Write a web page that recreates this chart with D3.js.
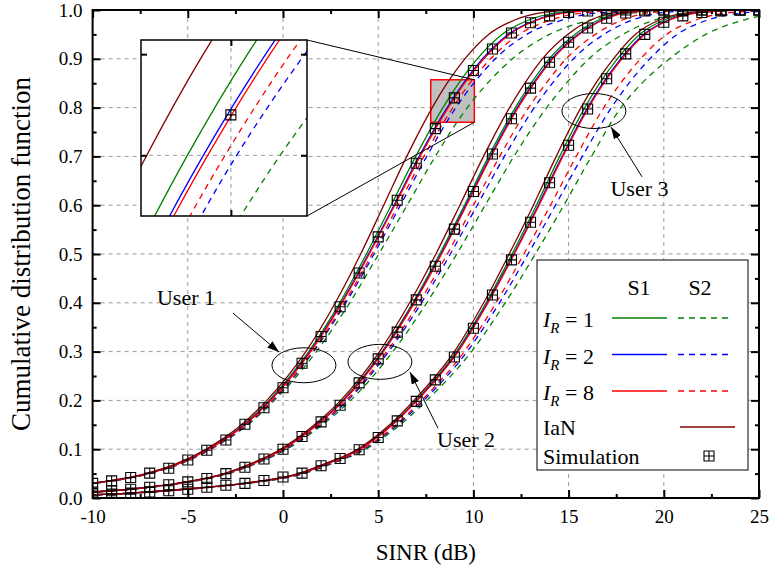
<!DOCTYPE html>
<html>
<head>
<meta charset="utf-8">
<script src="https://cdn.jsdelivr.net/npm/d3@7"></script>
<style>
  body { margin: 0; background: #fff; }
  text { font-family: "Liberation Serif", "Times New Roman", serif; fill: #000; }
</style>
</head>
<body>
<svg id="chart" width="771" height="575"></svg>
<script>
var cdfLevels = [0.005, 0.01, 0.02, 0.03, 0.05, 0.07, 0.1, 0.15, 0.2, 0.3, 0.4, 0.5, 0.6, 0.7, 0.8, 0.85, 0.9, 0.95, 0.98, 0.995, 1.0];

// user 1
var u1IaN  = [-22.1, -18.1, -13.6, -10.1, -7.22, -5.63, -4.05, -2.18, -0.85, 1.2, 2.75, 4.08, 5.29, 6.5, 7.84, 8.62, 9.55, 10.8, 12.2, 13.7, 15.5];
var u1R1S1 = [-22.03, -18.03, -13.53, -10.03, -7.14, -5.55, -3.95, -2.06, -0.73, 1.35, 2.98, 4.38, 5.68, 6.97, 8.4, 9.23, 10.2, 11.5, 12.95, 14.5, 16.5];
var u1R2S1 = [-22.01, -18.01, -13.51, -10.01, -7.11, -5.52, -3.92, -2.02, -0.67, 1.42, 3.07, 4.49, 5.83, 7.15, 8.62, 9.48, 10.48, 11.82, 13.32, 14.9, 17];
var u1R8S1 = [-22, -18, -13.5, -10, -7.1, -5.5, -3.9, -2.0, -0.65, 1.45, 3.1, 4.53, 5.87, 7.2, 8.68, 9.54, 10.55, 11.9, 13.4, 15.0, 17];
var u1R8S2 = [-21.97, -17.97, -13.47, -9.97, -7.06, -5.45, -3.85, -1.94, -0.57, 1.55, 3.22, 4.68, 6.05, 7.4, 8.92, 9.82, 10.9, 12.4, 14.1, 16.0, 18.5];
var u1R2S2 = [-21.95, -17.95, -13.45, -9.95, -7.04, -5.43, -3.82, -1.9, -0.53, 1.6, 3.3, 4.78, 6.17, 7.55, 9.08, 10.02, 11.15, 12.8, 14.7, 16.8, 20];
var u1R1S2 = [-21.92, -17.92, -13.42, -9.92, -7.0, -5.39, -3.78, -1.85, -0.45, 1.75, 3.5, 5.03, 6.52, 8.0, 9.68, 10.74, 12.05, 14.0, 16.2, 18.8, 23];

// user 2
var u2IaN  = [-15.1, -11.1, -7.6, -5.6, -3.1, -1.72, -0.13, 1.65, 3.03, 5.07, 6.65, 8.03, 9.29, 10.53, 11.9, 12.7, 13.62, 14.95, 16.2, 17.5, 19.5];
var u2R1S1 = [-15.02, -11.02, -7.52, -5.52, -3.03, -1.63, -0.04, 1.75, 3.14, 5.2, 6.82, 8.23, 9.53, 10.8, 12.2, 13.03, 13.98, 15.33, 16.6, 17.92, 20];
var u2R2S1 = [-15.01, -11.01, -7.51, -5.51, -3.01, -1.61, -0.02, 1.78, 3.18, 5.24, 6.87, 8.3, 9.6, 10.89, 12.3, 13.15, 14.11, 15.49, 16.78, 18.12, 20.2];
var u2R8S1 = [-15, -11, -7.5, -5.5, -3.0, -1.6, 0, 1.8, 3.2, 5.27, 6.9, 8.33, 9.64, 10.93, 12.35, 13.2, 14.17, 15.55, 16.85, 18.2, 20.3];
var u2R8S2 = [-14.97, -10.97, -7.47, -5.46, -2.95, -1.54, 0.07, 1.9, 3.32, 5.45, 7.14, 8.63, 10.01, 11.38, 12.9, 13.82, 14.87, 16.4, 17.85, 19.4, 22];
var u2R2S2 = [-14.95, -10.95, -7.45, -5.44, -2.92, -1.5, 0.12, 1.96, 3.4, 5.55, 7.27, 8.79, 10.2, 11.63, 13.2, 14.15, 15.25, 16.85, 18.4, 20.05, 23];
var u2R1S2 = [-14.92, -10.92, -7.42, -5.4, -2.87, -1.44, 0.2, 2.07, 3.55, 5.77, 7.55, 9.13, 10.62, 12.13, 13.85, 14.88, 16.07, 17.85, 19.55, 21.4, 24.8];

// user 3
var u3IaN  = [-11.1, -8.1, -4.6, -2.1, 0.8, 2.18, 3.92, 5.6, 6.88, 9.0, 10.54, 11.88, 13.15, 14.35, 15.65, 16.43, 17.35, 18.5, 19.8, 21.4, 23.5];
var u3R1S1 = [-11.03, -8.03, -4.53, -2.03, 0.86, 2.25, 4.0, 5.69, 6.98, 9.11, 10.67, 12.03, 13.31, 14.53, 15.85, 16.63, 17.56, 18.73, 20.05, 21.67, 24];
var u3R2S1 = [-11.01, -8.01, -4.51, -2.01, 0.89, 2.29, 4.03, 5.73, 7.03, 9.17, 10.74, 12.12, 13.41, 14.66, 16.0, 16.8, 17.74, 18.94, 20.28, 21.92, 24.3];
var u3R8S1 = [-11, -8, -4.5, -2.0, 0.9, 2.3, 4.05, 5.75, 7.05, 9.2, 10.77, 12.15, 13.45, 14.7, 16.05, 16.85, 17.8, 19.0, 20.35, 22.0, 24.5];
var u3R8S2 = [-10.96, -7.96, -4.45, -1.94, 0.98, 2.4, 4.18, 5.93, 7.28, 9.52, 11.19, 12.65, 14.05, 15.4, 16.85, 17.73, 18.78, 20.15, 21.7, 23.6, 26.5];
var u3R2S2 = [-10.94, -7.94, -4.42, -1.9, 1.03, 2.46, 4.25, 6.02, 7.39, 9.67, 11.37, 12.87, 14.31, 15.72, 17.25, 18.17, 19.27, 20.7, 22.35, 24.4, 27.5];
var u3R1S2 = [-10.9, -7.9, -4.38, -1.85, 1.1, 2.55, 4.35, 6.15, 7.55, 9.9, 11.67, 13.25, 14.75, 16.2, 17.75, 18.85, 20.3, 22.2, 24.25, 26.6, 30];

// simulation points
var simSINR = [-10, -9, -8, -7, -6, -5, -4, -3, -2, -1, 0, 1, 2, 3, 4, 5, 6, 7, 8, 9, 10, 11, 12, 13, 14, 15, 16, 17, 18, 19, 20, 21, 22, 23, 24, 25];
var simUser1 = [0.030, 0.035, 0.042, 0.051, 0.061, 0.078, 0.098, 0.119, 0.151, 0.185, 0.226, 0.276, 0.331, 0.392, 0.461, 0.535, 0.610, 0.686, 0.757, 0.820, 0.876, 0.920, 0.953, 0.974, 0.988, 0.995, 0.998, 1, 1, 1, 1, 1, 1, 1, 1, 1];
var simUser2 = [0.012, 0.015, 0.018, 0.022, 0.027, 0.033, 0.040, 0.050, 0.063, 0.080, 0.100, 0.126, 0.156, 0.190, 0.236, 0.285, 0.340, 0.406, 0.475, 0.551, 0.628, 0.705, 0.777, 0.840, 0.893, 0.934, 0.963, 0.983, 0.994, 0.998, 1, 1, 1, 1, 1, 1];
var simUser3 = [0.006, 0.008, 0.010, 0.012, 0.015, 0.018, 0.022, 0.026, 0.030, 0.036, 0.043, 0.051, 0.066, 0.081, 0.099, 0.124, 0.158, 0.198, 0.242, 0.289, 0.348, 0.416, 0.488, 0.565, 0.646, 0.723, 0.797, 0.859, 0.910, 0.950, 0.975, 0.988, 0.995, 0.998, 1, 1];

// axes
var xTicks = [-10, -5, 0, 5, 10, 15, 20, 25];
var xMinor = [-7.5, -2.5, 2.5, 7.5, 12.5, 17.5, 22.5];
var yTicks = [0, 0.1, 0.2, 0.3, 0.4, 0.5, 0.6, 0.7, 0.8, 0.9, 1.0];
var yMinor = [0.05, 0.15, 0.25, 0.35, 0.45, 0.55, 0.65, 0.75, 0.85, 0.95];

// zoomed window
var insetSINR = [7.76, 10.05];
var insetCDF = [0.770, 0.857];
var insetXTicks = [9];
var insetYTicks = [0.8, 0.85];

// user labels: ellipse centre, arrow tail/tip, text pos (data units)
var userNotes = [
  {label: "User 1", cx: 1.1, cy: 0.272, ax: -2.63, ay: 0.379, bx: -0.21, by: 0.299, tx: -6.62, ty: 0.395},
  {label: "User 2", cx: 5.09, cy: 0.279, ax: 8.14, ay: 0.143, bx: 6.67, by: 0.258, tx: 8.09, ty: 0.105},
  {label: "User 3", cx: 16.33, cy: 0.793, ax: 18.86, ay: 0.658, bx: 17.23, by: 0.760, tx: 17.2, ty: 0.619}
];

var GREEN = "#008000", BLUE = "#0000ff", RED = "#ff0000", MAROON = "#800000";

// drawing order: dashed first, IaN last
var series = [
  {color: GREEN, dashed: true,  data: [u1R1S2, u2R1S2, u3R1S2]},
  {color: BLUE,  dashed: true,  data: [u1R2S2, u2R2S2, u3R2S2]},
  {color: RED,   dashed: true,  data: [u1R8S2, u2R8S2, u3R8S2]},
  {color: GREEN, dashed: false, data: [u1R1S1, u2R1S1, u3R1S1]},
  {color: BLUE,  dashed: false, data: [u1R2S1, u2R2S1, u3R2S1]},
  {color: RED,   dashed: false, data: [u1R8S1, u2R8S1, u3R8S1]},
  {color: MAROON, dashed: false, data: [u1IaN, u2IaN, u3IaN]}
];
var simSets = [simUser1, simUser2, simUser3];

var svg = d3.select("#chart");
var pL = 92.6, pR = 759, pT = 10, pB = 498;

var x = d3.scaleLinear().domain([-10, 25]).range([pL, pR]);
var y = d3.scaleLinear().domain([0, 1]).range([pB, pT]);

var defs = svg.append("defs");
defs.append("clipPath").attr("id", "plotClip").append("rect")
  .attr("x", pL).attr("y", pT - 1).attr("width", pR - pL).attr("height", pB - pT + 1);
defs.append("marker").attr("id", "arrow")
  .attr("viewBox", "0 0 12 8").attr("refX", 12).attr("refY", 4)
  .attr("markerWidth", 12).attr("markerHeight", 8).attr("markerUnits", "userSpaceOnUse")
  .attr("orient", "auto")
  .append("path").attr("d", "M0,0L12,4L0,8z").attr("fill", "#000");

function toPoints(xs) {
  var pts = cdfLevels.map(function(p, i) { return [xs[i], p]; });
  if (xs[xs.length - 1] < 25) pts.push([25, 1]);
  return pts;
}

var markerPath = "M-5,-5h10v10h-10z M0,-5v10 M-5,0h10";

// gridlines
var grid = svg.append("g");
grid.selectAll(".vg").data(xTicks.slice(1, -1)).enter().append("line")
  .attr("x1", function(d) { return x(d); }).attr("x2", function(d) { return x(d); })
  .attr("y1", pT).attr("y2", pB)
  .attr("stroke", "#999").attr("stroke-width", 1).attr("stroke-dasharray", "4,4");
grid.selectAll(".hg").data(yTicks.slice(1, -1)).enter().append("line")
  .attr("y1", function(d) { return y(d); }).attr("y2", function(d) { return y(d); })
  .attr("x1", pL).attr("x2", pR)
  .attr("stroke", "#999").attr("stroke-width", 1).attr("stroke-dasharray", "4,4");

// zoom-region rectangle
svg.append("rect")
  .attr("x", x(insetSINR[0])).attr("y", y(insetCDF[1]))
  .attr("width", x(insetSINR[1]) - x(insetSINR[0]))
  .attr("height", y(insetCDF[0]) - y(insetCDF[1]))
  .attr("fill", "#c0c0c0").attr("stroke", RED).attr("stroke-width", 1.5);

function drawCurves(g, xs, ys) {
  var line = d3.line()
    .x(function(d) { return xs(d[0]); })
    .y(function(d) { return ys(d[1]); })
    .curve(d3.curveMonotoneX);
  series.forEach(function(s) {
    s.data.forEach(function(arr) {
      g.append("path")
        .attr("d", line(toPoints(arr)))
        .attr("fill", "none")
        .attr("stroke", s.color)
        .attr("stroke-width", 1.3)
        .attr("stroke-dasharray", s.dashed ? "6,5" : null);
    });
  });
  simSets.forEach(function(vals) {
    g.append("g").selectAll("path").data(vals).enter().append("path")
      .attr("d", markerPath)
      .attr("transform", function(d, i) { return "translate(" + xs(simSINR[i]) + "," + ys(d) + ")"; })
      .attr("fill", "none").attr("stroke", "#000").attr("stroke-width", 1.1);
  });
}

var plot = svg.append("g").attr("clip-path", "url(#plotClip)");
drawCurves(plot, x, y);

// connector lines from inset to zoom rect
var ix0 = 141, ix1 = 307, iy0 = 40, iy1 = 216;
svg.append("line").attr("x1", ix1).attr("y1", iy0)
  .attr("x2", x(insetSINR[1])).attr("y2", y(insetCDF[1]))
  .attr("stroke", "#000").attr("stroke-width", 1);
svg.append("line").attr("x1", ix1).attr("y1", iy1)
  .attr("x2", x(insetSINR[1])).attr("y2", y(insetCDF[0]))
  .attr("stroke", "#000").attr("stroke-width", 1);

// inset
var xi = d3.scaleLinear().domain(insetSINR).range([ix0, ix1]);
var yi = d3.scaleLinear().domain(insetCDF).range([iy1, iy0]);
defs.append("clipPath").attr("id", "insetClip").append("rect")
  .attr("x", ix0).attr("y", iy0).attr("width", ix1 - ix0).attr("height", iy1 - iy0);
var inset = svg.append("g");
inset.append("rect").attr("x", ix0).attr("y", iy0).attr("width", ix1 - ix0).attr("height", iy1 - iy0)
  .attr("fill", "#fff");
inset.selectAll(".ivg").data(insetXTicks).enter().append("line")
  .attr("x1", function(d) { return xi(d); }).attr("x2", function(d) { return xi(d); })
  .attr("y1", iy0).attr("y2", iy1)
  .attr("stroke", "#999").attr("stroke-dasharray", "4,4");
inset.selectAll(".ihg").data([insetYTicks[0]]).enter().append("line")
  .attr("y1", function(d) { return yi(d); }).attr("y2", function(d) { return yi(d); })
  .attr("x1", ix0).attr("x2", ix1)
  .attr("stroke", "#999").attr("stroke-dasharray", "4,4");
var insetPlot = inset.append("g").attr("clip-path", "url(#insetClip)");
drawCurves(insetPlot, xi, yi);
inset.append("g").attr("transform", "translate(0," + iy1 + ")")
  .call(d3.axisBottom(xi).tickValues(insetXTicks).tickSize(-6).tickFormat(""));
inset.append("g").attr("transform", "translate(0," + iy0 + ")")
  .call(d3.axisTop(xi).tickValues(insetXTicks).tickSize(-6).tickFormat(""));
inset.append("g").attr("transform", "translate(" + ix0 + ",0)")
  .call(d3.axisLeft(yi).tickValues(insetYTicks).tickSize(-6).tickFormat(""));
inset.append("g").attr("transform", "translate(" + ix1 + ",0)")
  .call(d3.axisRight(yi).tickValues(insetYTicks).tickSize(-6).tickFormat(""));
inset.selectAll(".domain").remove();
inset.selectAll(".tick line").attr("stroke", "#000").attr("stroke-width", 2);
inset.append("rect").attr("x", ix0).attr("y", iy0).attr("width", ix1 - ix0).attr("height", iy1 - iy0)
  .attr("fill", "none").attr("stroke", "#000").attr("stroke-width", 1.5);

// user annotations
var notes = svg.append("g");
userNotes.forEach(function(n) {
  notes.append("ellipse")
    .attr("cx", x(n.cx)).attr("cy", y(n.cy)).attr("rx", 32).attr("ry", 17.5)
    .attr("fill", "none").attr("stroke", "#000").attr("stroke-width", 1);
  notes.append("line")
    .attr("x1", x(n.ax)).attr("y1", y(n.ay)).attr("x2", x(n.bx)).attr("y2", y(n.by))
    .attr("stroke", "#000").attr("stroke-width", 1).attr("marker-end", "url(#arrow)");
  notes.append("text").attr("x", x(n.tx)).attr("y", y(n.ty))
    .style("font-size", "22px").text(n.label);
});

// axes
function styleAxis(g) {
  g.select(".domain").remove();
  g.selectAll(".tick line").attr("stroke", "#000").attr("stroke-width", 2);
  g.selectAll(".tick text").style("font-size", "19px").attr("fill", "#000")
    .style("font-family", "'Liberation Serif', 'Times New Roman', serif");
}
var fmt = d3.format(".1f");
svg.append("g").attr("transform", "translate(0," + pB + ")")
  .call(d3.axisBottom(x).tickValues(xTicks).tickSize(-8).tickPadding(12).tickFormat(function(d) { return String(d); }))
  .call(styleAxis);
svg.append("g").attr("transform", "translate(0," + pB + ")")
  .call(d3.axisBottom(x).tickValues(xMinor).tickSize(-4).tickFormat("")).call(styleAxis);
svg.append("g").attr("transform", "translate(0," + pT + ")")
  .call(d3.axisTop(x).tickValues(xTicks).tickSize(-8).tickFormat("")).call(styleAxis);
svg.append("g").attr("transform", "translate(0," + pT + ")")
  .call(d3.axisTop(x).tickValues(xMinor).tickSize(-4).tickFormat("")).call(styleAxis);
svg.append("g").attr("transform", "translate(" + pL + ",0)")
  .call(d3.axisLeft(y).tickValues(yTicks).tickSize(-8).tickPadding(10).tickFormat(fmt))
  .call(styleAxis);
svg.append("g").attr("transform", "translate(" + pL + ",0)")
  .call(d3.axisLeft(y).tickValues(yMinor).tickSize(-4).tickFormat("")).call(styleAxis);
svg.append("g").attr("transform", "translate(" + pR + ",0)")
  .call(d3.axisRight(y).tickValues(yTicks).tickSize(-8).tickFormat("")).call(styleAxis);
svg.append("g").attr("transform", "translate(" + pR + ",0)")
  .call(d3.axisRight(y).tickValues(yMinor).tickSize(-4).tickFormat("")).call(styleAxis);

svg.append("rect").attr("x", pL).attr("y", pT).attr("width", pR - pL).attr("height", pB - pT)
  .attr("fill", "none").attr("stroke", "#000").attr("stroke-width", 2);

svg.append("text").attr("x", (pL + pR) / 2).attr("y", 560)
  .attr("text-anchor", "middle").style("font-size", "23px").text("SINR (dB)");
svg.append("text").attr("transform", "translate(30," + ((pT + pB) / 2) + ") rotate(-90)")
  .attr("text-anchor", "middle").style("font-size", "27px").text("Cumulative distribution function");

// legend
var legendRows = [
  {sub: "1", color: GREEN},
  {sub: "2", color: BLUE},
  {sub: "8", color: RED}
];
var lg = svg.append("g").attr("transform", "translate(537,260)");
lg.append("rect").attr("width", 211).attr("height", 210)
  .attr("fill", "#fff").attr("stroke", "#000").attr("stroke-width", 1);
lg.append("text").attr("x", 102).attr("y", 35).attr("text-anchor", "middle").style("font-size", "22px").text("S1");
lg.append("text").attr("x", 163).attr("y", 35).attr("text-anchor", "middle").style("font-size", "22px").text("S2");
legendRows.forEach(function(r, i) {
  var cy = 58 + i * 36.5;
  var t = lg.append("text").attr("x", 6).attr("y", cy + 9).style("font-size", "22px");
  t.append("tspan").style("font-style", "italic").text("I");
  t.append("tspan").style("font-style", "italic").style("font-size", "15px").attr("dy", 6).text("R");
  t.append("tspan").attr("dy", -6).text(" = " + r.sub);
  lg.append("line").attr("x1", 75).attr("x2", 130).attr("y1", cy).attr("y2", cy)
    .attr("stroke", r.color).attr("stroke-width", 1.3);
  lg.append("line").attr("x1", 141).attr("x2", 196).attr("y1", cy).attr("y2", cy)
    .attr("stroke", r.color).attr("stroke-width", 1.3).attr("stroke-dasharray", "6,5");
});
lg.append("text").attr("x", 6).attr("y", 175).style("font-size", "22px").text("IaN");
lg.append("line").attr("x1", 143).attr("x2", 198).attr("y1", 167).attr("y2", 167)
  .attr("stroke", MAROON).attr("stroke-width", 1.3);
lg.append("text").attr("x", 6).attr("y", 204).style("font-size", "22px").text("Simulation");
lg.append("path").attr("d", markerPath).attr("transform", "translate(172,196)")
  .attr("fill", "none").attr("stroke", "#000").attr("stroke-width", 1.1);
</script>
</body>
</html>
